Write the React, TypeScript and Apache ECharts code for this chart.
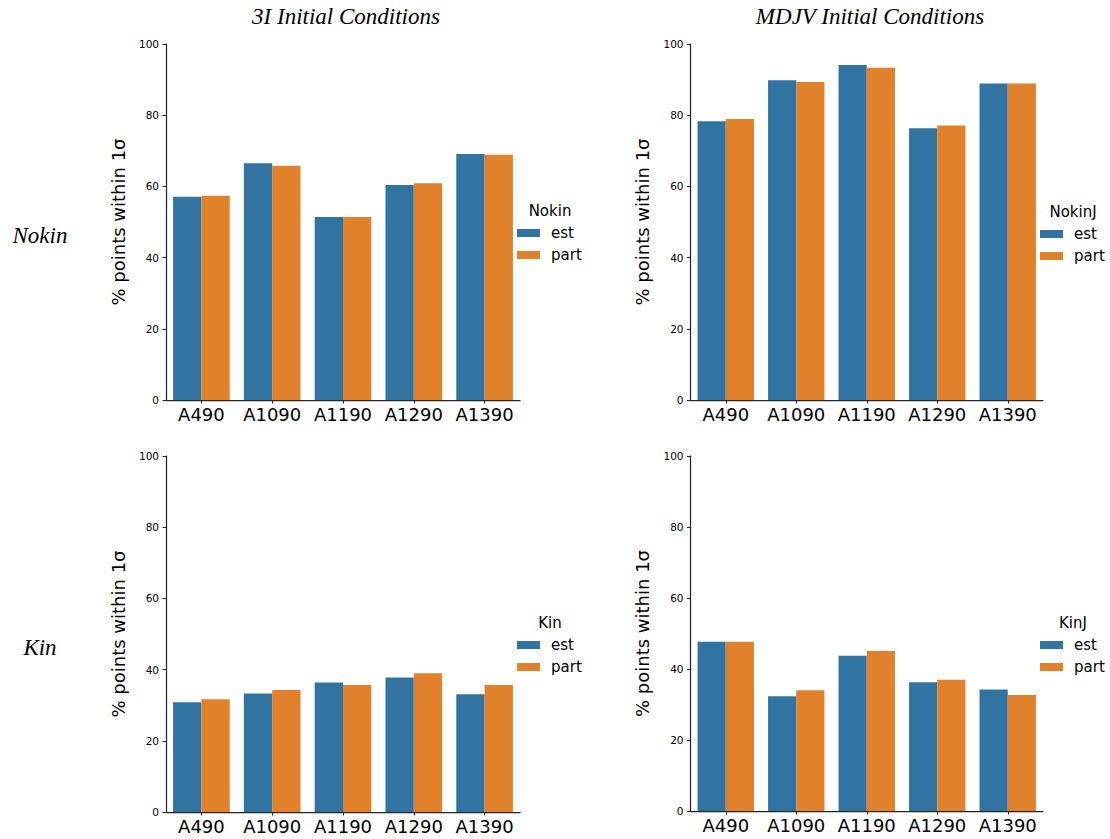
import React, { useEffect, useRef } from "react";
import * as echarts from "echarts";

const categories = ["A490", "A1090", "A1190", "A1290", "A1390"];
const seriesNames = ["est", "part"];

const nokin3I_est = [57.1, 66.5, 51.4, 60.4, 69.1];
const nokin3I_part = [57.4, 65.8, 51.4, 60.9, 68.9];
const nokinMDJV_est = [78.3, 89.8, 94.1, 76.3, 88.9];
const nokinMDJV_part = [78.9, 89.3, 93.3, 77.1, 88.9];
const kin3I_est = [30.8, 33.3, 36.4, 37.8, 33.1];
const kin3I_part = [31.7, 34.3, 35.7, 39.0, 35.7];
const kinMDJV_est = [47.7, 32.3, 43.7, 36.3, 34.2];
const kinMDJV_part = [47.7, 34.0, 45.1, 37.0, 32.7];

const legendTitles = ["Nokin", "NokinJ", "Kin", "KinJ"];
const colTitles = ["3I Initial Conditions", "MDJV Initial Conditions"];
const rowTitles = ["Nokin", "Kin"];
const yTitle = "% points within 1σ";

const COLORS = ["#3274A1", "#E1812C"];
const AXIS = "#262626";
const SANS = "DejaVu Sans";
const SERIF = "Liberation Serif";

export default function App() {
  const ref = useRef<HTMLDivElement>(null);
  useEffect(() => {
    if (!ref.current) return;
    const chart = echarts.init(ref.current, undefined, { renderer: "svg" });
    const panels = [
      { left: 166, top: 44, width: 354, height: 356, est: nokin3I_est, part: nokin3I_part, lx: 517, ly: 211 },
      { left: 690.5, top: 44, width: 352.5, height: 356, est: nokinMDJV_est, part: nokinMDJV_part, lx: 1040, ly: 212 },
      { left: 166, top: 456, width: 354, height: 356, est: kin3I_est, part: kin3I_part, lx: 517, ly: 623 },
      { left: 690.5, top: 456, width: 352.5, height: 355, est: kinMDJV_est, part: kinMDJV_part, lx: 1040, ly: 623 },
    ];
    const grid = panels.map((p) => ({ left: p.left, top: p.top, width: p.width, height: p.height, containLabel: false }));
    const xAxis = panels.map((p, i) => ({
      type: "category",
      gridIndex: i,
      data: categories,
      axisLine: { lineStyle: { color: AXIS, width: 1.25 } },
      axisTick: { show: true, alignWithLabel: true, interval: 0, length: 3.5, lineStyle: { color: AXIS, width: 1 } },
      axisLabel: { color: "#000", fontFamily: SANS, fontSize: 18, margin: 5, interval: 0, hideOverlap: false },
    }));
    const yAxis = panels.map((p, i) => ({
      type: "value",
      gridIndex: i,
      min: 0,
      max: 100,
      interval: 20,
      name: yTitle,
      nameLocation: "middle",
      nameGap: 39,
      nameRotate: 90,
      nameTextStyle: { color: "#000", fontFamily: SANS, fontSize: 18 },
      splitLine: { show: false },
      axisLine: { show: true, lineStyle: { color: AXIS, width: 1.25 } },
      axisTick: { show: true, length: 3.5, lineStyle: { color: AXIS, width: 1 } },
      axisLabel: { color: "#000", fontFamily: SANS, fontSize: 10.5, margin: 7 },
    }));
    const series: any[] = [];
    panels.forEach((p, i) => {
      [p.est, p.part].forEach((d, j) => {
        series.push({
          type: "bar",
          name: seriesNames[j],
          xAxisIndex: i,
          yAxisIndex: i,
          data: d,
          barGap: "0%",
          barCategoryGap: "20%",
          itemStyle: { color: COLORS[j] },
        });
      });
    });
    const legend = panels.map((p) => ({
      data: seriesNames,
      orient: "vertical",
      left: p.lx,
      top: p.ly + 14,
      padding: 0,
      itemWidth: 23,
      itemHeight: 8,
      itemGap: 6,
      icon: "rect",
      selectedMode: false,
      textStyle: { color: "#000", fontFamily: SANS, fontSize: 15, lineHeight: 16, padding: [0, 0, 0, 6] },
    }));
    const graphic: any[] = [];
    panels.forEach((p, i) => {
      graphic.push({
        type: "text",
        x: p.lx + 33,
        y: p.ly,
        style: {
          text: legendTitles[i],
          fill: "#000",
          font: `15px '${SANS}'`,
          textAlign: "center",
          textVerticalAlign: "middle",
        },
      });
    });
    graphic.push(
      { type: "text", x: 346, y: 16, style: { text: colTitles[0], fill: "#000", font: `italic 23px '${SERIF}'`, textAlign: "center", textVerticalAlign: "middle" } },
      { type: "text", x: 870, y: 16, style: { text: colTitles[1], fill: "#000", font: `italic 23px '${SERIF}'`, textAlign: "center", textVerticalAlign: "middle" } },
      { type: "text", x: 40, y: 235, style: { text: rowTitles[0], fill: "#000", font: `italic 23px '${SERIF}'`, textAlign: "center", textVerticalAlign: "middle" } },
      { type: "text", x: 40, y: 647, style: { text: rowTitles[1], fill: "#000", font: `italic 23px '${SERIF}'`, textAlign: "center", textVerticalAlign: "middle" } }
    );
    chart.setOption({
      animation: false,
      backgroundColor: "#fff",
      grid,
      xAxis,
      yAxis,
      series,
      legend,
      graphic,
    });
    return () => chart.dispose();
  }, []);
  return <div ref={ref} style={{ position: "fixed", left: 0, top: 0, width: 1110, height: 839 }} />;
}
